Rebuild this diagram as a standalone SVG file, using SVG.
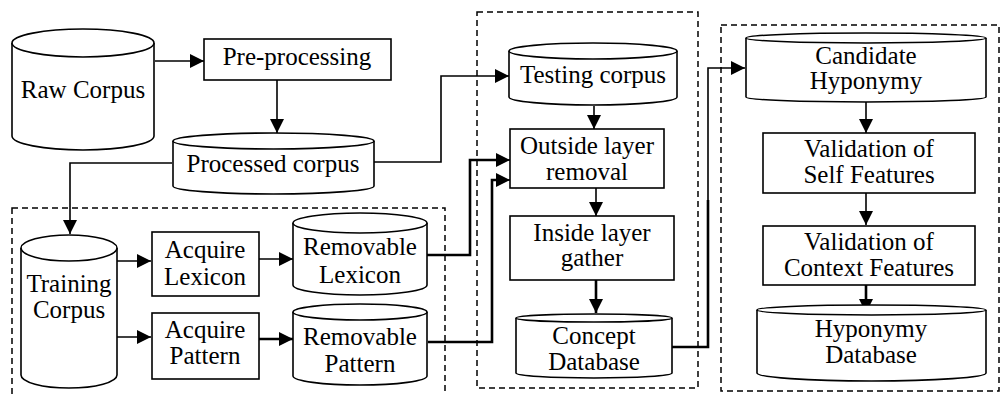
<svg xmlns="http://www.w3.org/2000/svg" width="1002" height="394" viewBox="0 0 1002 394">
<style>
.shape{fill:#fff;stroke:#000;stroke-width:1.6}
.t{font-family:'Liberation Serif','Times New Roman',serif;font-size:25px;fill:#000;text-anchor:middle}
.c{fill:none;stroke:#000;stroke-width:1.6}
.ct{fill:none;stroke:#000;stroke-width:2.6}
.grp{fill:none;stroke:#000;stroke-width:1.5;stroke-dasharray:6 4}
</style>
<defs>
<marker id="ah" viewBox="0 0 14 14" refX="14" refY="7" markerWidth="14" markerHeight="14" markerUnits="userSpaceOnUse" orient="auto">
<path d="M0,0 L14,7 L0,14 Z" fill="#000"/>
</marker>
</defs>
<rect width="1002" height="394" fill="#fff"/>
<g id="groups">
<rect class="grp" x="12" y="208" width="433" height="190"/>
<rect class="grp" x="477" y="12" width="221" height="376"/>
<rect class="grp" x="721" y="25" width="278" height="366"/>
</g>
<g id="connectors">
<path class="c" d="M155,61 H204" marker-end="url(#ah)"/>
<path class="c" d="M277,80 V133" marker-end="url(#ah)"/>
<path class="c" d="M374,162 H441 V76 H509" marker-end="url(#ah)"/>
<path class="c" d="M172,163 H70 V234" marker-end="url(#ah)"/>
<path class="c" d="M594,106 V129" marker-end="url(#ah)"/>
<path class="c" d="M117,261 H151" marker-end="url(#ah)"/>
<path class="c" d="M117,337 H151" marker-end="url(#ah)"/>
<path class="c" d="M259,259 H293" marker-end="url(#ah)"/>
<path class="ct" d="M259,339 H293" marker-end="url(#ah)"/>
<path class="ct" d="M427,255 H470 V160 H496"/>
<path class="c" d="M495,160 H510" marker-end="url(#ah)"/>
<path class="ct" d="M428,342 H492 V180 H496"/>
<path class="c" d="M495,180 H510" marker-end="url(#ah)"/>
<path class="c" d="M596,188 V216" marker-end="url(#ah)"/>
<path class="ct" d="M596,280 V313" marker-end="url(#ah)"/>
<path class="ct" d="M672,347 H708 V200"/>
<path class="c" d="M708,201 V68 H745" marker-end="url(#ah)"/>
<path class="c" d="M866,102 V133" marker-end="url(#ah)"/>
<path class="c" d="M866,193 V225" marker-end="url(#ah)"/>
<path class="ct" d="M866,285 V313" marker-end="url(#ah)"/>
</g>
<g id="raw-corpus">
<path class="shape" d="M12,43 A71,14 0 0 1 154,43 V136 A71,14 0 0 1 12,136 Z"/>
<path class="shape" d="M12,43 A71,14 0 0 0 154,43"/>
<text class="t" x="83" y="98">Raw Corpus</text>
</g>
<g id="pre-processing">
<rect class="shape" x="204" y="39" width="187" height="41"/>
<text class="t" x="297" y="65">Pre-processing</text>
</g>
<g id="processed-corpus">
<path class="shape" d="M173,141 A100.5,8 0 0 1 374,141 V186 A100.5,8 0 0 1 173,186 Z"/>
<path class="shape" d="M173,141 A100.5,8 0 0 0 374,141"/>
<text class="t" x="273" y="172">Processed corpus</text>
</g>
<g id="testing-corpus">
<path class="shape" d="M509,51 A84,8 0 0 1 677,51 V97 A84,8 0 0 1 509,97 Z"/>
<path class="shape" d="M509,51 A84,8 0 0 0 677,51"/>
<text class="t" x="593" y="83">Testing corpus</text>
</g>
<g id="outside-layer-removal">
<rect class="shape" x="510" y="129" width="154" height="59"/>
<text class="t" x="587" y="154">Outside layer</text>
<text class="t" x="587" y="180">removal</text>
</g>
<g id="inside-layer-gather">
<rect class="shape" x="510" y="216" width="164" height="64"/>
<text class="t" x="592" y="241">Inside layer</text>
<text class="t" x="592" y="266">gather</text>
</g>
<g id="concept-database">
<path class="shape" d="M516,318 A78,4 0 0 1 672,318 V373 A78,5 0 0 1 516,373 Z"/>
<path class="shape" d="M516,318 A78,4 0 0 0 672,318"/>
<text class="t" x="594" y="344">Concept</text>
<text class="t" x="594" y="370">Database</text>
</g>
<g id="training-corpus">
<path class="shape" d="M21,248 A48,13 0 0 1 117,248 V375 A48,13 0 0 1 21,375 Z"/>
<path class="shape" d="M21,248 A48,13 0 0 0 117,248"/>
<text class="t" x="69" y="292">Training</text>
<text class="t" x="69" y="318">Corpus</text>
</g>
<g id="acquire-lexicon">
<rect class="shape" x="152" y="232" width="107" height="64"/>
<text class="t" x="205" y="258">Acquire</text>
<text class="t" x="205" y="285">Lexicon</text>
</g>
<g id="acquire-pattern">
<rect class="shape" x="152" y="313" width="107" height="66"/>
<text class="t" x="205" y="338">Acquire</text>
<text class="t" x="205" y="364">Pattern</text>
</g>
<g id="removable-lexicon">
<path class="shape" d="M293,223 A67,10 0 0 1 427,223 V285 A67,10 0 0 1 293,285 Z"/>
<path class="shape" d="M293,223 A67,10 0 0 0 427,223"/>
<text class="t" x="360" y="255">Removable</text>
<text class="t" x="360" y="283">Lexicon</text>
</g>
<g id="removable-pattern">
<path class="shape" d="M293,312 A67,8 0 0 1 427,312 V376 A67,9 0 0 1 293,376 Z"/>
<path class="shape" d="M293,312 A67,8 0 0 0 427,312"/>
<text class="t" x="360" y="345">Removable</text>
<text class="t" x="360" y="372">Pattern</text>
</g>
<g id="candidate-hyponymy">
<path class="shape" d="M746,38 A120,5 0 0 1 986,38 V97 A120,5 0 0 1 746,97 Z"/>
<path class="shape" d="M746,38 A120,5 0 0 0 986,38"/>
<text class="t" x="866" y="64">Candidate</text>
<text class="t" x="866" y="89">Hyponymy</text>
</g>
<g id="validation-self">
<rect class="shape" x="763" y="133" width="212" height="60"/>
<text class="t" x="869" y="157">Validation of</text>
<text class="t" x="869" y="183">Self Features</text>
</g>
<g id="validation-context">
<rect class="shape" x="763" y="226" width="212" height="59"/>
<text class="t" x="869" y="250">Validation of</text>
<text class="t" x="869" y="276">Context Features</text>
</g>
<g id="hyponymy-database">
<path class="shape" d="M757,310 A114.5,5 0 0 1 986,310 V373 A114.5,8 0 0 1 757,373 Z"/>
<path class="shape" d="M757,310 A114.5,5 0 0 0 986,310"/>
<text class="t" x="871" y="337">Hyponymy</text>
<text class="t" x="871" y="363">Database</text>
</g>
</svg>
